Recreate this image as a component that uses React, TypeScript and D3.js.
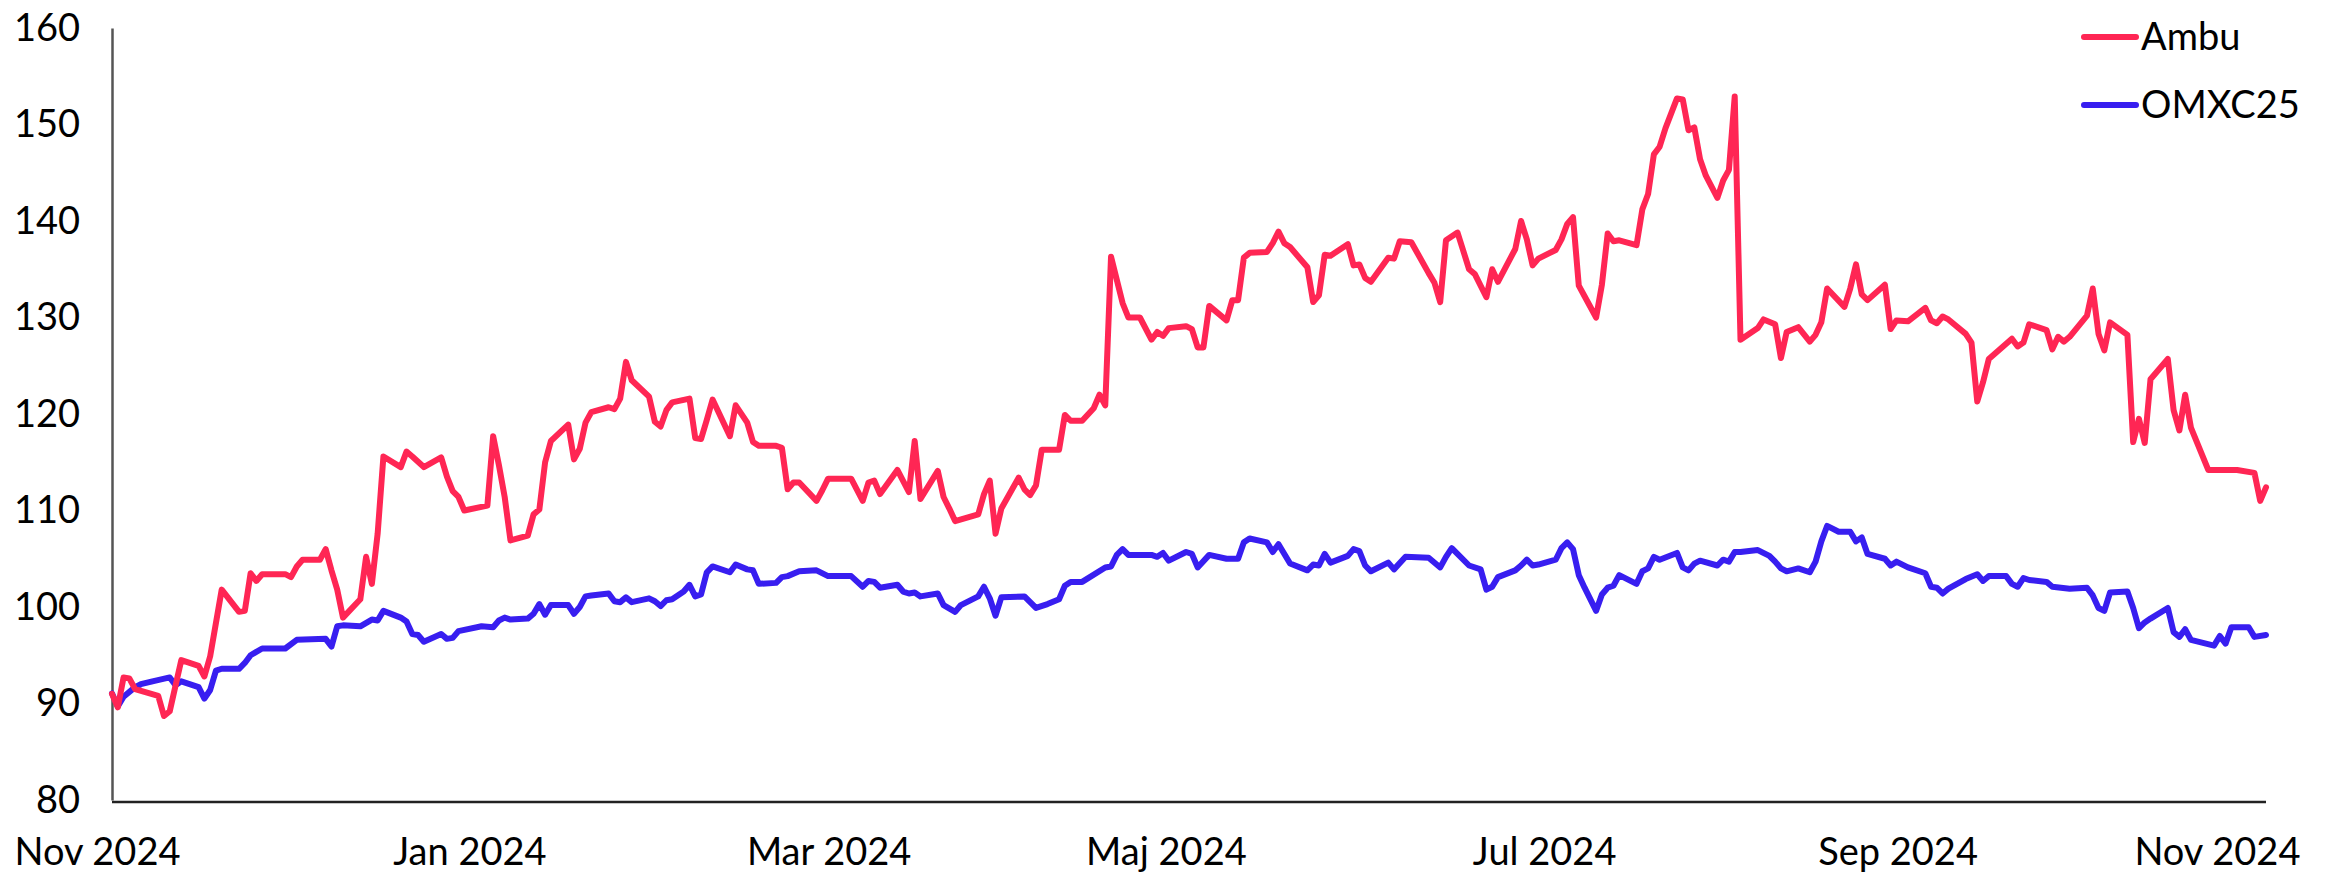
import React, { useEffect, useRef } from "react";
import * as d3 from "d3";

// [day since start, index value]
const ambu: [number, number][] = [
  [0, 91.0], [1, 89.6], [2, 92.7], [3, 92.6], [4, 91.5], [8, 90.8], [9, 88.7], [10, 89.2],
  [12, 94.5], [15, 93.9], [16, 92.8], [17, 94.9], [19, 101.8], [22, 99.5], [23, 99.6], [24, 103.5],
  [25, 102.7], [26, 103.4], [30, 103.4], [31, 103.1], [32, 104.2], [33, 104.9], [36, 104.9], [37, 106.0],
  [38, 103.8], [39, 101.8], [40, 98.9], [43, 100.8], [44, 105.2], [45, 102.4], [46, 107.6], [47, 115.6],
  [50, 114.5], [51, 116.1], [52, 115.6], [54, 114.5], [57, 115.5], [58, 113.5], [59, 112.0], [60, 111.4],
  [61, 110.0], [65, 110.5], [66, 117.7], [67, 114.7], [68, 111.4], [69, 106.9], [72, 107.4], [73, 109.6],
  [74, 110.1], [75, 115.0], [76, 117.2], [79, 118.9], [80, 115.3], [81, 116.4], [82, 119.1], [83, 120.2],
  [86, 120.7], [87, 120.5], [88, 121.6], [89, 125.4], [90, 123.5], [93, 121.8], [94, 119.2], [95, 118.7],
  [96, 120.4], [97, 121.2], [100, 121.6], [101, 117.5], [102, 117.4], [103, 119.4], [104, 121.5], [107, 117.7],
  [108, 120.9], [110, 119.1], [111, 117.1], [112, 116.7], [115, 116.7], [116, 116.5], [117, 112.2], [118, 112.9],
  [119, 112.9], [122, 111.0], [123, 112.1], [124, 113.3], [128, 113.3], [130, 111.0], [131, 112.9], [132, 113.1],
  [133, 111.7], [136, 114.2], [138, 111.9], [139, 117.2], [140, 111.2], [143, 114.1], [144, 111.4], [145, 110.2],
  [146, 108.9], [150, 109.6], [151, 111.7], [152, 113.1], [153, 107.6], [154, 110.2], [157, 113.4], [158, 112.2],
  [159, 111.6], [160, 112.6], [161, 116.3], [164, 116.3], [165, 119.9], [166, 119.3], [168, 119.3], [170, 120.6],
  [171, 122.0], [172, 120.9], [173, 136.3], [175, 131.5], [176, 130.0], [178, 130.0], [180, 127.7], [181, 128.5],
  [182, 128.1], [183, 128.9], [186, 129.1], [187, 128.8], [188, 126.9], [189, 126.9], [190, 131.2], [193, 129.7],
  [194, 131.8], [195, 131.8], [196, 136.2], [197, 136.7], [200, 136.8], [201, 137.7], [202, 138.9], [203, 137.7],
  [204, 137.3], [207, 135.2], [208, 131.6], [209, 132.3], [210, 136.5], [211, 136.4], [214, 137.6], [215, 135.4],
  [216, 135.5], [217, 134.1], [218, 133.7], [221, 136.2], [222, 136.1], [223, 137.9], [225, 137.8], [228, 134.6],
  [229, 133.6], [230, 131.6], [231, 138.0], [233, 138.8], [235, 135.0], [236, 134.5], [238, 132.1], [239, 135.0],
  [240, 133.7], [243, 137.1], [244, 140.0], [245, 138.1], [246, 135.4], [247, 136.1], [250, 137.0], [251, 138.1],
  [252, 139.7], [253, 140.4], [254, 133.3], [255, 132.2], [257, 130.0], [258, 133.4], [259, 138.7], [260, 137.9],
  [261, 138.0], [264, 137.5], [265, 141.2], [266, 142.8], [267, 146.9], [268, 147.7], [269, 149.6], [271, 152.7],
  [272, 152.6], [273, 149.4], [274, 149.7], [275, 146.4], [276, 144.7], [278, 142.4], [279, 144.2], [280, 145.3],
  [281, 152.9], [282, 127.7], [285, 128.9], [286, 129.8], [288, 129.3], [289, 125.8], [290, 128.5], [292, 129.0],
  [294, 127.5], [295, 128.2], [296, 129.5], [297, 133.0], [300, 131.1], [301, 133.0], [302, 135.5], [303, 132.4],
  [304, 131.8], [307, 133.4], [308, 128.8], [309, 129.7], [311, 129.6], [314, 131.0], [315, 129.7], [316, 129.4],
  [317, 130.1], [318, 129.8], [321, 128.3], [322, 127.4], [323, 121.3], [324, 123.3], [325, 125.7], [329, 127.8],
  [330, 127.0], [331, 127.4], [332, 129.3], [335, 128.7], [336, 126.7], [337, 128.0], [338, 127.5], [339, 128.0],
  [342, 130.2], [343, 133.0], [344, 128.3], [345, 126.6], [346, 129.5], [349, 128.2], [350, 117.1], [351, 119.5],
  [352, 117.0], [353, 123.6], [356, 125.7], [357, 120.4], [358, 118.3], [359, 122.0], [360, 118.6], [363, 114.2],
  [368, 114.2], [371, 113.9], [372, 111.0], [373, 112.4],
];

const omx: [number, number][] = [
  [0, 91.05], [1, 89.7], [2, 90.7], [4, 91.7], [5, 92.0], [7, 92.3], [10, 92.7], [11, 91.9],
  [12, 92.3], [15, 91.7], [16, 90.5], [17, 91.4], [18, 93.4], [19, 93.6], [22, 93.6], [23, 94.2],
  [24, 95.0], [26, 95.7], [30, 95.7], [32, 96.6], [37, 96.7], [38, 95.9], [39, 98.0], [40, 98.1],
  [43, 98.0], [45, 98.7], [46, 98.6], [47, 99.6], [50, 98.9], [51, 98.5], [52, 97.2], [53, 97.1],
  [54, 96.4], [57, 97.2], [58, 96.7], [59, 96.8], [60, 97.5], [64, 98.0], [66, 97.9], [67, 98.6],
  [68, 98.9], [69, 98.7], [72, 98.8], [73, 99.3], [74, 100.3], [75, 99.2], [76, 100.2], [79, 100.2],
  [80, 99.3], [81, 100.0], [82, 101.1], [83, 101.2], [86, 101.4], [87, 100.6], [88, 100.5], [89, 101.0],
  [90, 100.5], [93, 100.9], [94, 100.6], [95, 100.1], [96, 100.7], [97, 100.8], [99, 101.6], [100, 102.3],
  [101, 101.1], [102, 101.3], [103, 103.6], [104, 104.2], [107, 103.6], [108, 104.4], [110, 103.9], [111, 103.8],
  [112, 102.4], [115, 102.5], [116, 103.1], [117, 103.2], [119, 103.7], [122, 103.8], [124, 103.2], [128, 103.2],
  [130, 102.1], [131, 102.7], [132, 102.6], [133, 102.0], [136, 102.3], [137, 101.6], [138, 101.4], [139, 101.5],
  [140, 101.1], [143, 101.4], [144, 100.2], [146, 99.5], [147, 100.2], [150, 101.1], [151, 102.1], [152, 100.9],
  [153, 99.1], [154, 101.0], [158, 101.1], [160, 99.9], [162, 100.3], [164, 100.8], [165, 102.2], [166, 102.6],
  [168, 102.6], [172, 104.1], [173, 104.2], [174, 105.4], [175, 106.0], [176, 105.4], [180, 105.4], [181, 105.2],
  [182, 105.6], [183, 104.8], [186, 105.7], [187, 105.5], [188, 104.1], [190, 105.4], [193, 105.0], [195, 105.0],
  [196, 106.7], [197, 107.1], [200, 106.7], [201, 105.7], [202, 106.5], [204, 104.5], [207, 103.8], [208, 104.4],
  [209, 104.3], [210, 105.5], [211, 104.6], [214, 105.3], [215, 106.0], [216, 105.8], [217, 104.3], [218, 103.7],
  [221, 104.6], [222, 103.9], [224, 105.2], [228, 105.1], [230, 104.1], [231, 105.2], [232, 106.1], [235, 104.3],
  [237, 103.9], [238, 101.8], [239, 102.1], [240, 103.1], [243, 103.8], [244, 104.3], [245, 104.9], [246, 104.3],
  [247, 104.4], [250, 104.9], [251, 106.1], [252, 106.7], [253, 106.0], [254, 103.3], [255, 102.0], [257, 99.6],
  [258, 101.3], [259, 102.0], [260, 102.2], [261, 103.3], [264, 102.4], [265, 103.7], [266, 104.0], [267, 105.2],
  [268, 104.9], [271, 105.6], [272, 104.1], [273, 103.8], [274, 104.5], [275, 104.8], [278, 104.3], [279, 104.9],
  [280, 104.7], [281, 105.7], [282, 105.7], [285, 105.9], [287, 105.3], [288, 104.7], [289, 104.0], [290, 103.7],
  [292, 104.0], [294, 103.6], [295, 104.7], [296, 106.8], [297, 108.4], [299, 107.8], [301, 107.8], [302, 106.8],
  [303, 107.2], [304, 105.5], [307, 105.0], [308, 104.3], [309, 104.7], [311, 104.1], [314, 103.5], [315, 102.1],
  [316, 102.0], [317, 101.4], [318, 101.9], [321, 102.9], [323, 103.4], [324, 102.7], [325, 103.2], [328, 103.2],
  [329, 102.4], [330, 102.1], [331, 103.0], [332, 102.8], [335, 102.6], [336, 102.1], [339, 101.9], [342, 102.0],
  [343, 101.2], [344, 99.9], [345, 99.6], [346, 101.5], [349, 101.6], [350, 99.9], [351, 97.8], [352, 98.4],
  [353, 98.8], [356, 99.9], [357, 97.4], [358, 96.9], [359, 97.7], [360, 96.6], [364, 96.0], [365, 97.0],
  [366, 96.2], [367, 97.9], [370, 97.9], [371, 96.9], [373, 97.1],
];

const seriesNames = ["Ambu", "OMXC25"];
const seriesColors = ["#ff2654", "#381ef0"];

const tickDays = [-2.6, 61.9, 124.1, 182.5, 248, 309.2, 364.5];
const tickLabels = ["Nov 2024", "Jan 2024", "Mar 2024", "Maj 2024", "Jul 2024", "Sep 2024", "Nov 2024"];
const yTicks = [80, 90, 100, 110, 120, 130, 140, 150, 160];

const W = 2351;
const H = 876;
const FONT = "Lato, 'Noto Sans', sans-serif";

export default function App() {
  const ref = useRef<SVGSVGElement>(null);

  useEffect(() => {
    const svg = d3.select(ref.current);
    svg.selectAll("*").remove();

    const x = d3.scaleLinear().domain([0, 373]).range([112, 2266]);
    const y = d3.scaleLinear().domain([80, 160]).range([800, 28]);

    // y axis
    const yAxis = d3.axisLeft(y).tickValues(yTicks).tickSize(0).tickPadding(32);
    const gy = svg.append("g").attr("transform", "translate(112,0)").call(yAxis);
    gy.select(".domain").attr("stroke", "#555").attr("stroke-width", 2.5);
    gy.selectAll("text")
      .attr("font-family", FONT)
      .attr("font-size", 38)
      .attr("fill", "#000");

    // x axis
    const xAxis = d3
      .axisBottom(x)
      .tickValues(tickDays)
      .tickFormat((d, i) => tickLabels[i])
      .tickSize(0)
      .tickPadding(36);
    const gx = svg.append("g").attr("transform", "translate(0,802)").call(xAxis);
    gx.select(".domain").attr("d", `M${x(0)},0H${x(373)}`).attr("stroke", "#222").attr("stroke-width", 2.5);
    gx.selectAll("text")
      .attr("font-family", FONT)
      .attr("font-size", 38)
      .attr("fill", "#000");

    const line = d3
      .line<[number, number]>()
      .x((d) => x(d[0]))
      .y((d) => y(d[1]));

    [omx, ambu].forEach((data, k) => {
      svg
        .append("path")
        .attr("d", line(data))
        .attr("fill", "none")
        .attr("stroke", k === 0 ? seriesColors[1] : seriesColors[0])
        .attr("stroke-width", 6)
        .attr("stroke-linejoin", "round")
        .attr("stroke-linecap", "round");
    });

    // legend
    const legend = svg.append("g").attr("transform", "translate(2084,37)");
    seriesNames.forEach((name, i) => {
      const g = legend.append("g").attr("transform", `translate(0,${i * 68})`);
      g.append("line")
        .attr("x1", 0)
        .attr("x2", 52)
        .attr("stroke", seriesColors[i])
        .attr("stroke-width", 6)
        .attr("stroke-linecap", "round");
      g.append("text")
        .attr("x", 57)
        .attr("dy", "0.35em")
        .attr("font-family", FONT)
        .attr("font-size", 38)
        .text(name);
    });
  }, []);

  return (
    <svg
      ref={ref}
      width={W}
      height={H}
      style={{ position: "absolute", left: 0, top: 0, background: "#fff" }}
    />
  );
}
